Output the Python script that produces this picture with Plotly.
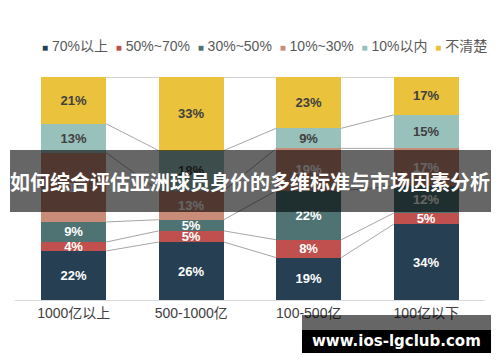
import plotly.graph_objects as go

categories = ["1000亿以上", "500-1000亿", "100-500亿", "100亿以下"]
series_names = ["70%以上", "50%~70%", "30%~50%", "10%~30%", "10%以内", "不清楚"]
v_70_up = [22, 26, 19, 34]
v_50_70 = [4, 5, 8, 5]
v_30_50 = [9, 5, 22, 12]
v_10_30 = [31, 13, 19, 17]
v_10_in = [13, 18, 9, 15]
v_unknown = [21, 33, 23, 17]
series_values = [v_70_up, v_50_70, v_30_50, v_10_30, v_10_in, v_unknown]
colors = ["#263F52", "#C0504D", "#4F7373", "#C98C79", "#98C1BC", "#EAC23B"]
label_colors = ["#FFFFFF", "#FFFFFF", "#FFFFFF", "#FFFFFF", "#404040", "#404040"]

title_text = "如何综合评估亚洲球员身价的多维标准与市场因素分析"
watermark = "www.ios-lgclub.com"

FONT = "Liberation Sans, Arial, Noto Sans CJK SC, sans-serif"
BAR_W = 0.553

fig = go.Figure()
for name, vals, c, lc in zip(series_names, series_values, colors, label_colors):
    fig.add_trace(go.Bar(
        x=categories, y=vals, name=name, marker=dict(color=c, line=dict(width=0)),
        width=BAR_W, texttemplate="%{y}%", textposition="inside",
        insidetextanchor="middle", textangle=0, constraintext="none",
        textfont=dict(color=lc, size=13, family=FONT, weight="bold"),
        showlegend=False, hoverinfo="skip",
    ))

# connector lines between adjacent bars at each cumulative boundary
cums = []
for i in range(len(categories)):
    s = 0
    row = []
    for vals in series_values:
        s += vals[i]
        row.append(s)
    cums.append(row)
shapes = []
for i in range(len(categories) - 1):
    for k in range(len(series_values)):
        shapes.append(dict(type="line", xref="x", yref="y",
                           x0=i + BAR_W / 2, x1=i + 1 - BAR_W / 2,
                           y0=cums[i][k], y1=cums[i + 1][k],
                           line=dict(color="#A6A6A6", width=1), layer="below"))

# overlay banner & watermark
shapes.append(dict(type="rect", xref="paper", yref="paper", x0=-0.0106, x1=1.0128,
                   y0=0.3946, y1=0.6726, fillcolor="rgba(0,0,0,0.6)", line=dict(width=0), layer="above"))
shapes.append(dict(type="rect", xref="paper", yref="paper", x0=0.6106, x1=1.0128,
                   y0=-0.1345, y1=-0.0673, fillcolor="rgba(0,0,0,0.6)", line=dict(width=0), layer="above"))
shapes.append(dict(type="rect", xref="paper", yref="paper", x0=0.6106, x1=1.0128,
                   y0=-0.2377, y1=-0.1345, fillcolor="#000000", line=dict(width=0), layer="above"))

# custom compact legend
legend_html = "&nbsp;&nbsp;".join(
    f"<span style='color:{c};font-size:10px'>■</span>&nbsp;{n}" for n, c in zip(series_names, colors)
)
annotations = [
    dict(text=legend_html, xref="paper", yref="paper", x=0.53, y=1.139, xanchor="center",
         yanchor="middle", showarrow=False, font=dict(size=14, color="#595959", family=FONT)),
    dict(text=title_text, xref="paper", yref="paper", x=0.5, y=0.5336, xanchor="center",
         yanchor="middle", showarrow=False,
         font=dict(size=20, color="#FFFFFF", family="Noto Sans CJK SC", weight="bold")),
    dict(text=watermark, xref="paper", yref="paper", x=0.812, y=-0.186, xanchor="center",
         yanchor="middle", showarrow=False,
         font=dict(size=15, color="#FFFFFF", family="DejaVu Sans", weight="bold")),
]

# page body adds an 8px offset, so the figure is 8px smaller and margins shifted
fig.update_layout(
    barmode="stack", width=492, height=354,
    margin=dict(l=7, r=15, t=69, b=62),
    paper_bgcolor="white", plot_bgcolor="white",
    shapes=shapes, annotations=annotations,
    uniformtext=dict(minsize=13, mode="show"),
    xaxis=dict(showline=True, linecolor="#D9D9D9", linewidth=1, ticks="",
               tickfont=dict(size=14, color="#404040", family=FONT), showgrid=False),
    yaxis=dict(range=[0, 100], visible=False, showgrid=False),
)
fig.write_html("out.html")
